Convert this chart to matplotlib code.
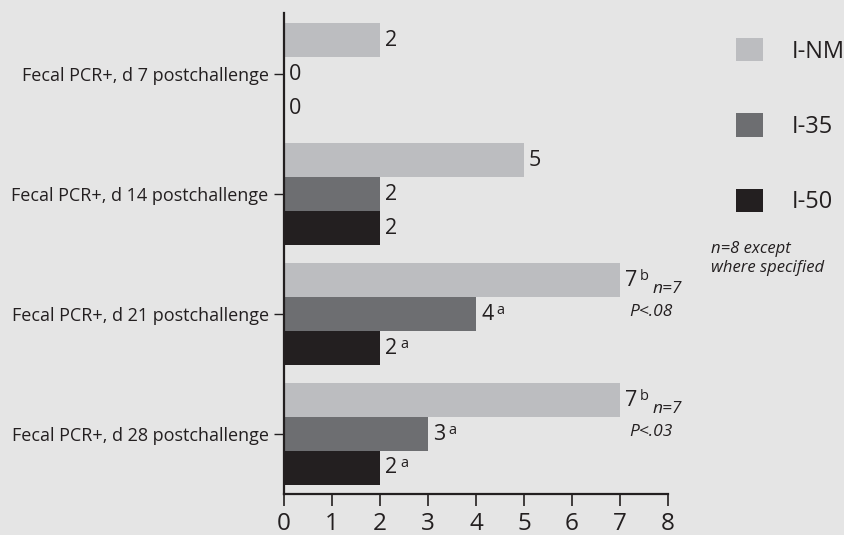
import matplotlib.pyplot as plt
import numpy as np

categories = [
    "Fecal PCR+, d 7 postchallenge",
    "Fecal PCR+, d 14 postchallenge",
    "Fecal PCR+, d 21 postchallenge",
    "Fecal PCR+, d 28 postchallenge",
]
groups = ["I-NM", "I-35", "I-50"]
inm = [2, 5, 7, 7]
i35 = [0, 2, 4, 3]
i50 = [0, 2, 2, 2]
inm_sup = ["", "", "b", "b"]
i35_sup = ["", "", "a", "a"]
i50_sup = ["", "", "a", "a"]
inm_n = ["", "", "n=7", "n=7"]
inm_p = ["", "", "P<.08", "P<.03"]
xticks = [0, 1, 2, 3, 4, 5, 6, 7, 8]

colors = ["#bcbdc0", "#6d6e71", "#231f20"]
bg = "#e5e5e5"
ink = "#231f20"
PX = 0.72  # points per pixel at dpi 100

plt.rcParams["font.family"] = ["Open Sans", "DejaVu Sans"]

fig = plt.figure(figsize=(8.44, 5.35), dpi=100, facecolor=bg)
ax = fig.add_axes([284 / 844, 1 - 494 / 535, 384 / 844, 481 / 535])
ax.set_facecolor(bg)

h = 0.283
pos = np.arange(len(categories))
series = [inm, i35, i50]
sups = [inm_sup, i35_sup, i50_sup]
bars = []
for k, (vals, col) in enumerate(zip(series, colors)):
    y = pos + (k - 1) * h
    b = ax.barh(y, vals, height=h, color=col, label=groups[k], zorder=2)
    bars.append(b)
    for yy, v, s in zip(y, vals, sups[k]):
        ax.annotate(str(v), xy=(v, yy), xytext=(5 * PX, 0),
                    textcoords="offset points", ha="left", va="center",
                    fontsize=15.5, color=ink)
        if s:
            ax.annotate(s, xy=(v, yy), xytext=(20 * PX, 4 * PX),
                        textcoords="offset points", ha="left", va="center",
                        fontsize=10.5, color=ink)

# n and P notes for the I-NM bars
for yy, v, n, p in zip(pos - h, inm, inm_n, inm_p):
    if n:
        ax.annotate(n, xy=(v, yy), xytext=(33 * PX, -9 * PX),
                    textcoords="offset points", ha="left", va="center",
                    fontsize=12.5, style="italic", color=ink)
    if p:
        ax.annotate(p, xy=(v, yy), xytext=(9 * PX, -32 * PX),
                    textcoords="offset points", ha="left", va="center",
                    fontsize=12.5, style="italic", color=ink)

ax.set_xlim(0, 8)
ax.set_ylim(3.5, -0.51)
ax.set_xticks(xticks)
ax.set_yticks(pos)
ax.set_yticklabels(categories)
for s in ["top", "right"]:
    ax.spines[s].set_visible(False)
for s in ["left", "bottom"]:
    ax.spines[s].set_linewidth(1.6)
    ax.spines[s].set_color(ink)
    ax.spines[s].set_zorder(3)
ax.tick_params(axis="x", length=8.5, width=1.2, color=ink, labelsize=17.5,
               labelcolor=ink, pad=4.5)
ax.tick_params(axis="y", length=7.5, width=1.0, color=ink, labelsize=13,
               labelcolor=ink, pad=3.5)

leg = ax.legend(handles=bars, labels=groups, loc="upper left",
                bbox_to_anchor=(736 / 844, 1 - 38 / 535),
                bbox_transform=fig.transFigure, frameon=False,
                fontsize=17, handlelength=1.15, handleheight=1.15,
                handletextpad=1.2, labelspacing=2.1, borderpad=0,
                borderaxespad=0)
for t in leg.get_texts():
    t.set_color(ink)

fig.text(711 / 844, 1 - 258.5 / 535, "n=8 except\nwhere specified",
         ha="left", va="center", fontsize=12, style="italic", color=ink,
         linespacing=1.25)

fig.savefig("out.png", dpi=100, facecolor=bg)
